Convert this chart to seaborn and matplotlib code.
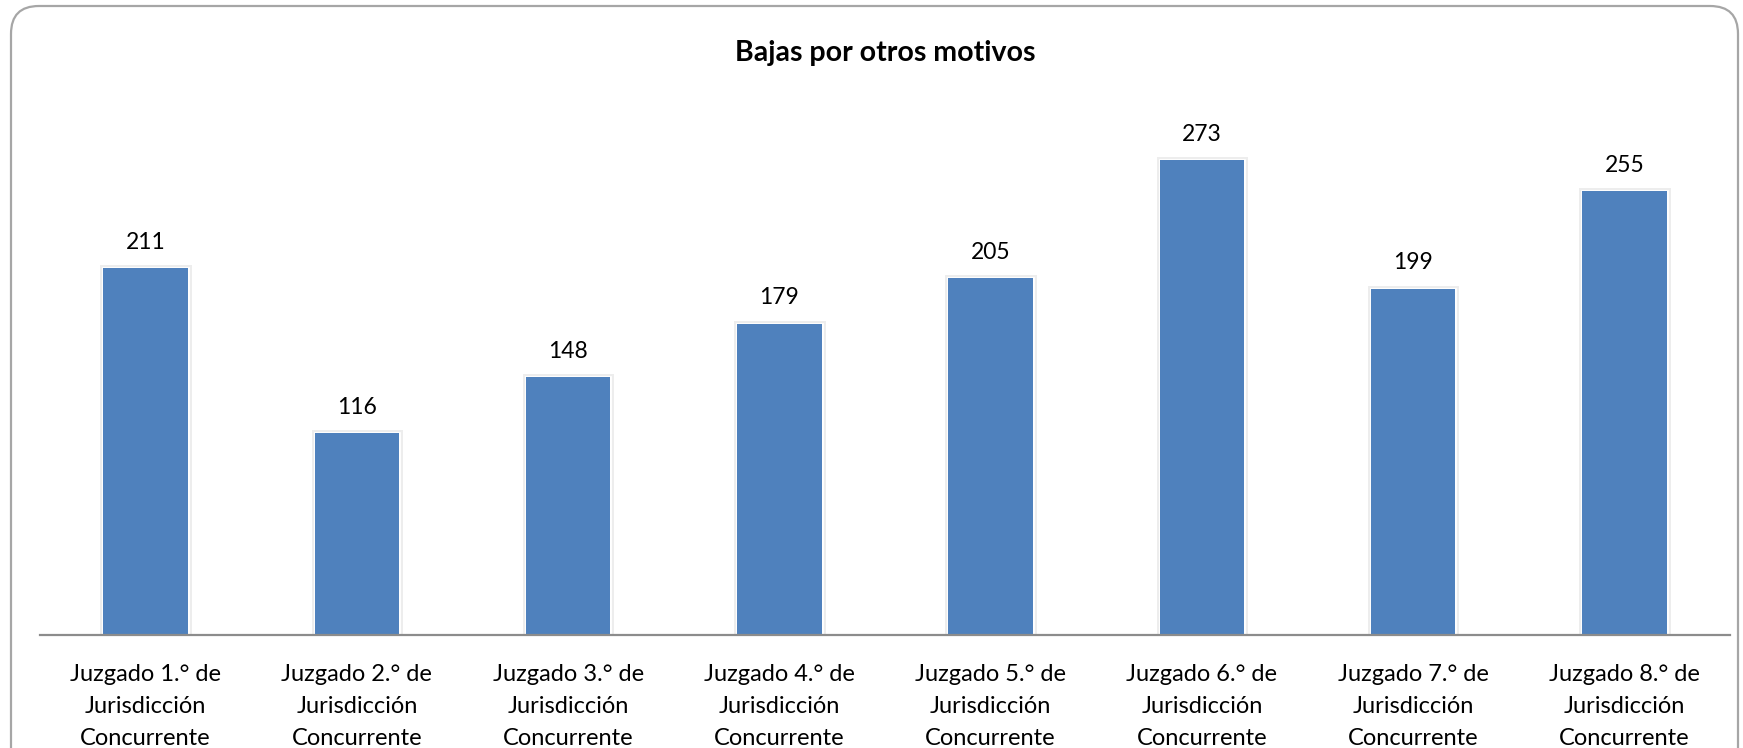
import matplotlib
matplotlib.use("Agg")
import matplotlib.pyplot as plt
import matplotlib.patheffects as pe
from matplotlib.patches import FancyBboxPatch
import seaborn as sns
import pandas as pd

# data
juzgados = ["Juzgado 1.° de\nJurisdicción\nConcurrente",
            "Juzgado 2.° de\nJurisdicción\nConcurrente",
            "Juzgado 3.° de\nJurisdicción\nConcurrente",
            "Juzgado 4.° de\nJurisdicción\nConcurrente",
            "Juzgado 5.° de\nJurisdicción\nConcurrente",
            "Juzgado 6.° de\nJurisdicción\nConcurrente",
            "Juzgado 7.° de\nJurisdicción\nConcurrente",
            "Juzgado 8.° de\nJurisdicción\nConcurrente"]
bajas = [211, 116, 148, 179, 205, 273, 199, 255]
titulo = "Bajas por otros motivos"

df = pd.DataFrame({"juzgado": juzgados, "bajas": bajas})

sns.set_theme(style="white")
plt.rcParams['font.family'] = ['Lato', 'DejaVu Sans']

fig = plt.figure(figsize=(17.43, 7.48), dpi=100)
ax = fig.add_axes([40 / 1743, 1 - 635 / 748, 1690 / 1743, 522 / 748])

sns.barplot(data=df, x="juzgado", y="bajas", color="#4F81BD", width=0.4,
            saturation=1, ax=ax, edgecolor="none")

for bar in ax.patches:
    bar.set_path_effects([pe.Stroke(linewidth=5, foreground="#EDEDED"),
                          pe.Stroke(linewidth=2, foreground="white"),
                          pe.Normal()])

ax.bar_label(ax.containers[0], padding=11, fontsize=16.5, color="black")

ax.set_ylim(0, 300)
ax.set_xlim(-0.5, len(juzgados) - 0.5)
ax.set_xlabel("")
ax.set_ylabel("")
ax.set_yticks([])
ax.tick_params(axis="x", length=0, labelsize=17, pad=21, colors="black")
for lbl in ax.get_xticklabels():
    lbl.set_linespacing(1.65)
for side in ["top", "right", "left"]:
    ax.spines[side].set_visible(False)
ax.spines["bottom"].set_color("#8C8C8C")
ax.spines["bottom"].set_linewidth(1.6)

fig.text(885 / 1743, 1 - 53 / 748, titulo, ha="center", va="center",
         fontsize=20.5, fontweight="bold", color="black")

# rounded chart border
border = FancyBboxPatch((11 / 1743, -0.05), 1727 / 1743, 1 - 6 / 748 + 0.05,
                        boxstyle="round,pad=0,rounding_size=0.016",
                        transform=fig.transFigure, fill=False,
                        edgecolor="#A6A6A6", linewidth=1.6,
                        mutation_aspect=1743 / 748)
fig.patches.append(border)

fig.savefig("out.png", dpi=100)
